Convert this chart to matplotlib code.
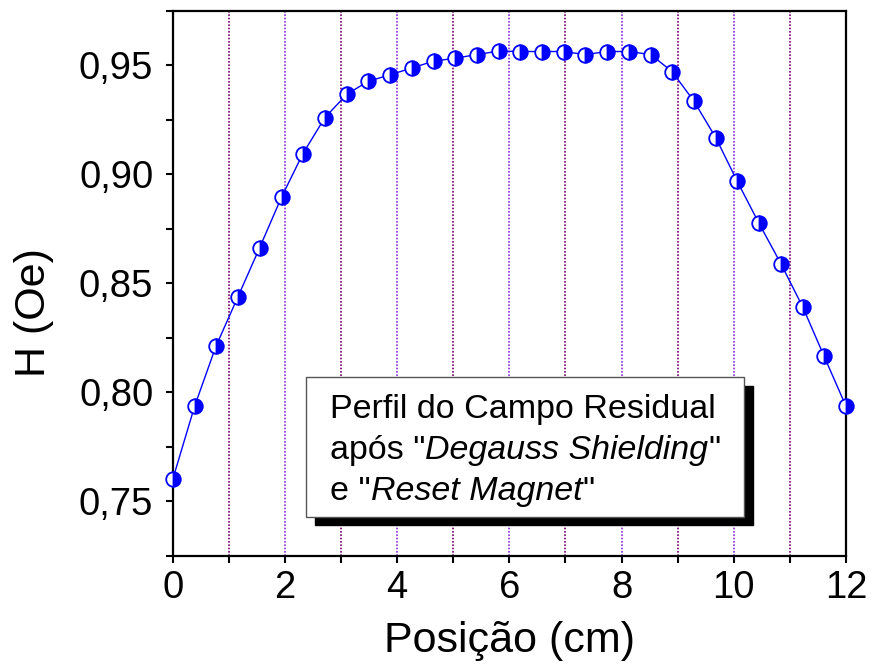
import numpy as np
import matplotlib.pyplot as plt
from matplotlib.patches import Rectangle
from matplotlib.ticker import MultipleLocator, FuncFormatter

plt.rcParams['font.family'] = ['Liberation Sans', 'DejaVu Sans']

# posição ao longo do eixo (cm) e campo residual medido (Oe)
posicao = [0.00, 0.39, 0.77, 1.16, 1.55, 1.94, 2.32, 2.71, 3.10, 3.48, 3.87,
           4.26, 4.65, 5.03, 5.42, 5.81, 6.19, 6.58, 6.97, 7.35, 7.74, 8.13,
           8.52, 8.90, 9.29, 9.68, 10.06, 10.45, 10.84, 11.23, 11.61, 12.00]
campo = [0.7600, 0.7936, 0.8211, 0.8437, 0.8664, 0.8896, 0.9095, 0.9260,
         0.9367, 0.9427, 0.9457, 0.9488, 0.9520, 0.9533, 0.9550, 0.9566,
         0.9564, 0.9564, 0.9564, 0.9550, 0.9564, 0.9564, 0.9550, 0.9472,
         0.9336, 0.9168, 0.8969, 0.8775, 0.8590, 0.8391, 0.8165, 0.7936]
linhas_grade = [1, 2, 3, 4, 5, 6, 7, 8, 9, 10, 11]

# linhas do texto: (trecho, itálico?)
legenda = [
    [('Perfil do Campo Residual', False)],
    [('após "', False), ('Degauss Shielding', True), ('"', False)],
    [('e "', False), ('Reset Magnet', True), ('"', False)],
]

fig = plt.figure(figsize=(8.71, 6.66), dpi=100)
ax = fig.add_axes([0.1983, 0.1656, 0.7730, 0.8179])

# linhas verticais pontilhadas, alternando cores
for g in linhas_grade:
    cor = '#7a0070' if g % 2 else '#8a2be2'
    ax.axvline(g, color=cor, ls=(0, (1, 1)), lw=1.2, zorder=1)

ax.plot(posicao, campo, color='blue', lw=1.0, marker='o', ms=10.5,
        fillstyle='right', markerfacecolor='blue', markerfacecoloralt='white',
        markeredgecolor='blue', markeredgewidth=1.3, zorder=3, clip_on=False)

ax.set_xlim(0, 12)
ax.set_ylim(0.725, 0.975)
ax.xaxis.set_major_locator(MultipleLocator(2))
ax.xaxis.set_minor_locator(MultipleLocator(1))
ax.yaxis.set_major_locator(MultipleLocator(0.05))
ax.yaxis.set_minor_locator(MultipleLocator(0.025))
ax.yaxis.set_major_formatter(FuncFormatter(lambda v, p: ('%.2f' % v).replace('.', ',')))
ax.tick_params(which='both', direction='out', length=5, width=1.5,
               top=False, right=False, labelsize=27.5)
ax.tick_params(axis='x', pad=5)
ax.tick_params(axis='y', pad=9)
for s in ax.spines.values():
    s.set_linewidth(1.6)

ax.set_xlabel('Posição (cm)', fontsize=31)
ax.set_ylabel('H (Oe)', fontsize=31)
ax.xaxis.set_label_coords(0.4995, -0.157)
ax.xaxis.label.set_va('center')
ax.yaxis.set_label_coords(-0.206, 0.446)
ax.yaxis.label.set_va('center')

# caixa de texto com sombra
ax.add_patch(Rectangle((315, 141), 438, 139, transform=None, color='black',
                       zorder=4))
ax.add_patch(Rectangle((306, 149), 438, 140, transform=None, facecolor='white',
                       edgecolor='#555555', lw=1.0, zorder=5))

renderer = fig.canvas.get_renderer()
x0, y0, passo = 330, 666 - 418, 41
for i, linha in enumerate(legenda):
    x = x0
    for trecho, italico in linha:
        t = fig.text(x, y0 - i * passo, trecho, transform=None, fontsize=24.5,
                     style='italic' if italico else 'normal',
                     ha='left', va='baseline', zorder=6)
        x = t.get_window_extent(renderer).x1

fig.savefig('out.png', dpi=100)
